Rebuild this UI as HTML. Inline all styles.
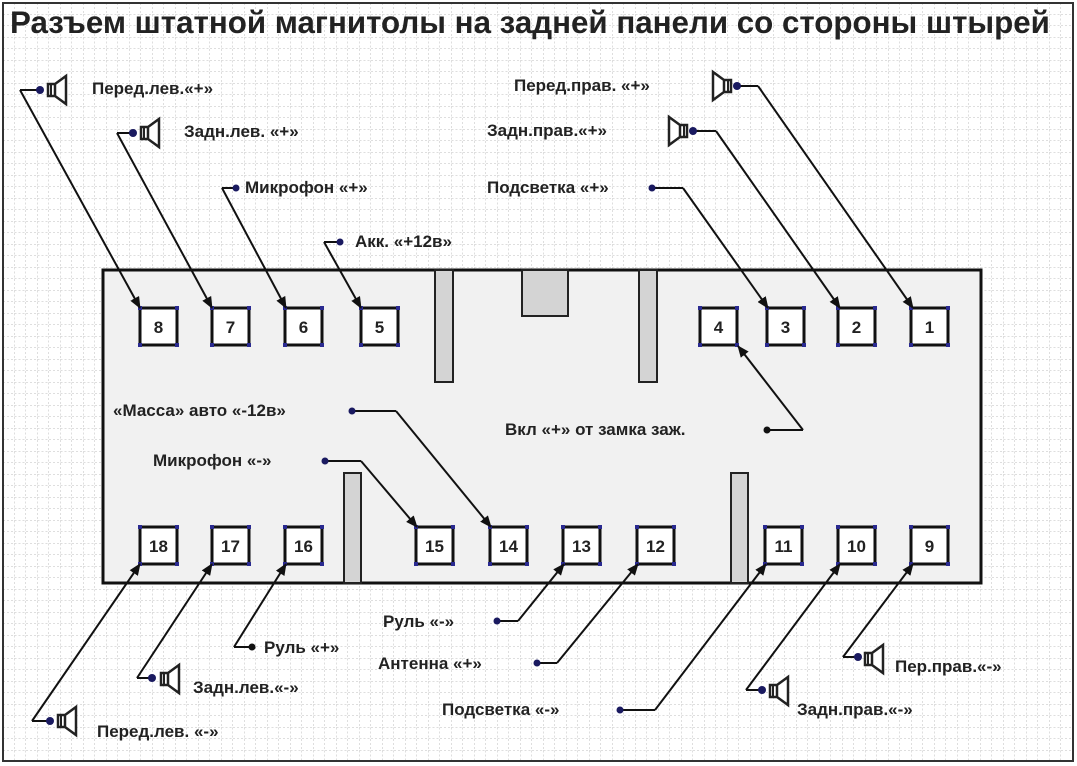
<!DOCTYPE html>
<html><head><meta charset="utf-8"><style>
html,body{margin:0;padding:0;background:#fff}
svg{display:block}
text{font-family:"Liberation Sans",sans-serif;font-weight:bold;fill:#222}
</style></head><body>
<svg id="s" width="1077" height="766" viewBox="0 0 1077 766" xmlns="http://www.w3.org/2000/svg">
<defs>
<pattern id="g" width="11.5" height="11.5" patternUnits="userSpaceOnUse" x="3" y="3">
<path d="M11.5 0V11.5M0 11.5H11.5" stroke="#bdbdbd" stroke-width="1" stroke-dasharray="2,2" fill="none"/>
</pattern>
<marker id="a" markerWidth="12" markerHeight="10" refX="11" refY="5" orient="auto" markerUnits="userSpaceOnUse">
<path d="M0,0 L12,5 L0,10 Z" fill="#111"/>
</marker>
<symbol id="spk" viewBox="0 0 24 30" preserveAspectRatio="none" overflow="visible">
<path d="M3,9 H10 V21 H3 Z M10,9 L21,1 V29 L10,21" fill="#fff" stroke="#222" stroke-width="2.5"/>
<line x1="6" y1="9" x2="6" y2="21" stroke="#222" stroke-width="2"/>
</symbol>
</defs>
<rect width="1077" height="766" fill="#fff"/>
<rect x="3" y="3" width="1070" height="758" fill="url(#g)" stroke="#333" stroke-width="2"/>
<text x="10" y="33" font-size="31.3">Разъем штатной магнитолы на задней панели со стороны штырей</text>

<rect x="103" y="270" width="878" height="313" fill="#f1f1f1" stroke="#111" stroke-width="3"/>
<rect x="435" y="270" width="18" height="112" fill="#d4d4d4" stroke="#222" stroke-width="2"/>
<rect x="639" y="270" width="18" height="112" fill="#d4d4d4" stroke="#222" stroke-width="2"/>
<rect x="522" y="270" width="46" height="46" fill="#d4d4d4" stroke="#222" stroke-width="2"/>
<rect x="344" y="473" width="17" height="110" fill="#d4d4d4" stroke="#222" stroke-width="2"/>
<rect x="731" y="473" width="17" height="110" fill="#d4d4d4" stroke="#222" stroke-width="2"/>
<g id="pins"></g>

<g stroke="#111" stroke-width="2" fill="none" marker-end="url(#a)">
<line x1="20" y1="90" x2="140" y2="308"/>
<line x1="117" y1="133" x2="212" y2="308"/>
<line x1="222" y1="188" x2="286" y2="308"/>
<line x1="324" y1="242" x2="361" y2="308"/>
<line x1="758" y1="86" x2="913" y2="308"/>
<line x1="716" y1="131" x2="840" y2="308"/>
<line x1="683" y1="188" x2="768" y2="308"/>
<line x1="803" y1="430" x2="738" y2="346"/>
<line x1="396" y1="411" x2="491" y2="527"/>
<line x1="361" y1="461" x2="417" y2="527"/>
<line x1="234" y1="647" x2="286" y2="564"/>
<line x1="137" y1="678" x2="212" y2="564"/>
<line x1="32" y1="721" x2="140" y2="564"/>
<line x1="518" y1="621" x2="564" y2="564"/>
<line x1="557" y1="663" x2="638" y2="564"/>
<line x1="655" y1="710" x2="766" y2="564"/>
<line x1="746" y1="690" x2="840" y2="564"/>
<line x1="843" y1="657" x2="913" y2="564"/>
</g>
<g stroke="#111" stroke-width="2">
<line x1="20" y1="90" x2="40" y2="90"/><line x1="117" y1="133" x2="133" y2="133"/>
<line x1="222" y1="188" x2="236" y2="188"/><line x1="324" y1="242" x2="340" y2="242"/>
<line x1="737" y1="86" x2="758" y2="86"/><line x1="693" y1="131" x2="716" y2="131"/>
<line x1="652" y1="188" x2="683" y2="188"/><line x1="767" y1="430" x2="803" y2="430"/>
<line x1="352" y1="411" x2="396" y2="411"/><line x1="325" y1="461" x2="361" y2="461"/>
<line x1="234" y1="647" x2="252" y2="647"/><line x1="137" y1="678" x2="152" y2="678"/>
<line x1="32" y1="721" x2="50" y2="721"/><line x1="497" y1="621" x2="518" y2="621"/>
<line x1="537" y1="663" x2="557" y2="663"/><line x1="620" y1="710" x2="655" y2="710"/>
<line x1="746" y1="690" x2="762" y2="690"/><line x1="843" y1="657" x2="858" y2="657"/>
</g>
<g fill="#1a1a60">
<circle cx="40" cy="90" r="4"/><circle cx="133" cy="133" r="4"/><circle cx="236" cy="188" r="3.5"/>
<circle cx="340" cy="242" r="3.5"/><circle cx="737" cy="86" r="4"/><circle cx="693" cy="131" r="4"/>
<circle cx="652" cy="188" r="3.5"/><circle cx="767" cy="430" r="3.5" fill="#111"/>
<circle cx="352" cy="411" r="3.5"/><circle cx="325" cy="461" r="3.5"/><circle cx="252" cy="647" r="3.5" fill="#111"/>
<circle cx="152" cy="678" r="4"/><circle cx="50" cy="721" r="4"/><circle cx="497" cy="621" r="3.5"/>
<circle cx="537" cy="663" r="3.5"/><circle cx="620" cy="710" r="3.5"/><circle cx="762" cy="690" r="4"/>
<circle cx="858" cy="657" r="4"/>
</g>
<use href="#spk" x="45" y="75" width="24" height="30"/>
<use href="#spk" x="138" y="118" width="24" height="30"/>
<use href="#spk" x="158" y="664" width="24" height="30"/>
<use href="#spk" x="55" y="706" width="24" height="30"/>
<use href="#spk" x="767" y="676" width="24" height="30"/>
<use href="#spk" x="862" y="644" width="24" height="30"/>
<g transform="translate(734,71) scale(-1,1)"><use href="#spk" x="0" y="0" width="24" height="30"/></g>
<g transform="translate(690,116) scale(-1,1)"><use href="#spk" x="0" y="0" width="24" height="30"/></g>

<g font-size="17">
<text x="92" y="94">Перед.лев.«+»</text>
<text x="184" y="137">Задн.лев. «+»</text>
<text x="245" y="193">Микрофон «+»</text>
<text x="355" y="247">Акк. «+12в»</text>
<text x="514" y="91">Перед.прав. «+»</text>
<text x="487" y="136">Задн.прав.«+»</text>
<text x="487" y="193">Подсветка «+»</text>
<text x="113" y="416">«Масса» авто «-12в»</text>
<text x="153" y="466">Микрофон «-»</text>
<text x="505" y="435">Вкл «+» от замка заж.</text>
<text x="264" y="653">Руль «+»</text>
<text x="383" y="627">Руль «-»</text>
<text x="378" y="669">Антенна «+»</text>
<text x="442" y="715">Подсветка «-»</text>
<text x="193" y="693">Задн.лев.«-»</text>
<text x="97" y="737">Перед.лев. «-»</text>
<text x="797" y="715">Задн.прав.«-»</text>
<text x="895" y="672">Пер.прав.«-»</text>
</g>
</svg>
<script>
(function(){
var ns="http://www.w3.org/2000/svg",grp=document.getElementById("pins");
function el(n,a){var e=document.createElementNS(ns,n);for(var k in a)e.setAttribute(k,a[k]);grp.appendChild(e);return e;}
var rowA=[[8,140],[7,212],[6,285],[5,361],[4,700],[3,767],[2,838],[1,911]];
var rowB=[[18,140],[17,212],[16,285],[15,416],[14,490],[13,563],[12,637],[11,765],[10,838],[9,911]];
function pins(arr,y){arr.forEach(function(p){
el("rect",{x:p[1],y:y,width:37,height:37,fill:"#fff",stroke:"#111","stroke-width":3});
var t=el("text",{x:p[1]+18.5,y:y+25,"text-anchor":"middle","font-size":"17"});t.textContent=String(p[0]);
[[0,0],[37,0],[0,37],[37,37]].forEach(function(c){el("rect",{x:p[1]+c[0]-2,y:y+c[1]-2,width:4,height:4,fill:"#2a2a90"});});
});}
pins(rowA,308);pins(rowB,527);
})();
</script>
</body></html>
